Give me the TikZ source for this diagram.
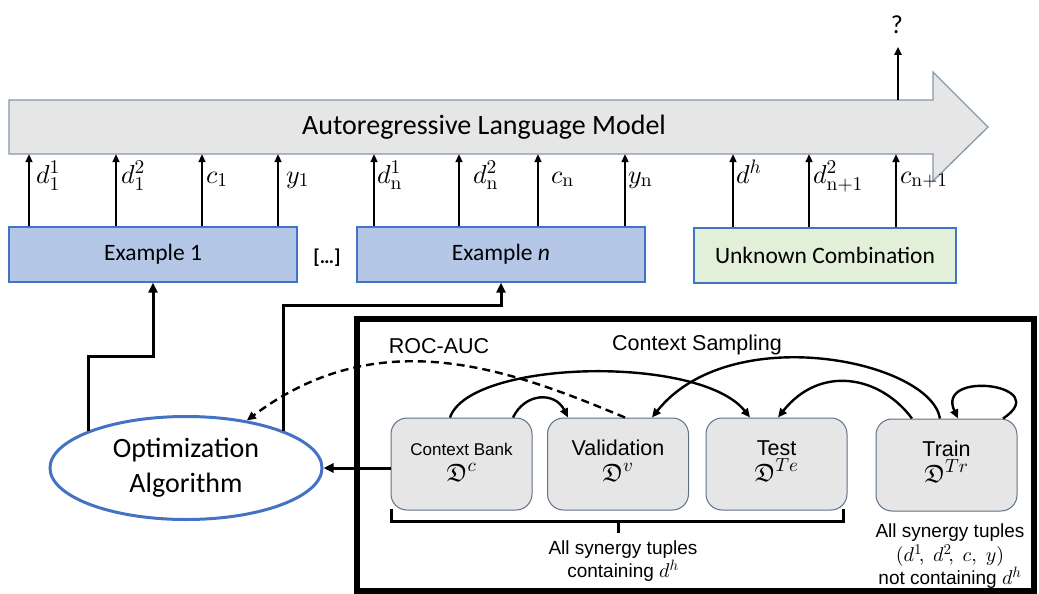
\documentclass[tikz,border=0pt]{standalone}
\usepackage[no-math]{fontspec}
\usepackage{amsmath,amssymb}
\DeclareFontShape{OML}{cmm}{m}{it}{<->cmmi10}{}
\DeclareFontShape{OT1}{cmr}{m}{n}{<->cmr10}{}
\DeclareFontShape{OMS}{cmsy}{m}{n}{<->cmsy10}{}
\DeclareFontShape{OMX}{cmex}{m}{n}{<->cmex10}{}
\DeclareFontFamily{U}{euf}{}
\DeclareFontShape{U}{euf}{m}{n}{<->eufm10}{}
\DeclareFontShape{U}{euf}{b}{n}{<->eufb10}{}
\DeclareMathSizes{26}{26}{19.5}{15}
\DeclareMathSizes{25}{25}{19}{14}
\DeclareMathSizes{20}{20}{15}{11}
\setmainfont{Carlito}
\newfontfamily\arialf{Liberation Sans}
\usetikzlibrary{arrows.meta,shapes.geometric,calc}
\definecolor{lmfill}{HTML}{E7E6E6}
\definecolor{lmdraw}{HTML}{8497B0}
\definecolor{exfill}{HTML}{B4C7E7}
\definecolor{exdraw}{HTML}{4472C4}
\definecolor{unkfill}{HTML}{E2F0D9}
\definecolor{setfill}{HTML}{E6E6E6}
\definecolor{setdraw}{HTML}{5F7086}
\newcommand{\fsz}[2]{\fontsize{#1}{#2}\selectfont}
\newcommand{\bm}[1]{{\fontsize{20}{23}\selectfont$#1$}}
\begin{document}
\begin{tikzpicture}[x=1pt,y=-1pt,
  inarrow/.style={line width=2.4pt,-{Triangle[length=8pt,width=7pt]}},
  link/.style={line width=3pt,-{Triangle[length=10pt,width=9pt]}},
  curve/.style={line width=2.4pt,-{Triangle[length=9pt,width=8pt]}},
  dashline/.style={line width=2.4pt,dash pattern=on 8pt off 5pt,-{Triangle[length=9pt,width=8pt]}},
  exbox/.style={draw=exdraw,line width=1.2pt,fill=exfill,minimum width=288pt,minimum height=55pt,inner sep=0pt,font=\fsz{23.5}{28}},
  setbox/.style={draw=setdraw,line width=1pt,fill=setfill,rounded corners=16pt,minimum width=141pt,minimum height=92pt,inner sep=0pt},
  lbl/.style={inner sep=0pt,font=\fsz{26}{30}},
  setname/.style={inner sep=0pt,anchor=base,font=\arialf\fsz{21.5}{26}},
  setsym/.style={inner sep=0pt,anchor=base,font=\fsz{25}{30}},
  note/.style={inner sep=0pt,align=center,font=\arialf\fsz{19}{23}}
]
\useasboundingbox (0,0) rectangle (1039,594);

% language model arrow
\draw[draw=lmdraw,line width=1.3pt,fill=lmfill] (9,100) -- (933,100) -- (933,72) -- (988,127) -- (933,181) -- (933,154) -- (9,154) -- cycle;
\node[minimum width=924pt,minimum height=54pt,inner sep=0pt] (lm) at (471,127) {};
\node[font=\fsz{28}{32}] (lmtext) at (484,127) {Autoregressive Language Model};

% output
\node[font=\fsz{26}{30},inner sep=0pt] (q) at (897,25) {?};
\draw[inarrow] (lm.north -| 898,0) -- ++(0,-53);

% example boxes
\node[exbox] (ex1) at (153,254.5) {Example 1};
\node[exbox] (exn) at (501,254.5) {Example \textit{n}};
\node[exbox,fill=unkfill,minimum width=262pt] (unk) at (825,255.5) {Unknown Combination};
\node[font=\bfseries\fsz{20}{24}] (dots) at (327,258) {[…]};

% input arrows with labels
\foreach \ax/\lx/\lab/\src/\nm in {
  29/36/{$d^1_1$}/ex1/la1, 116/121/{$d^2_1$}/ex1/la2, 202/206/{$c_1$}/ex1/la3, 278/286/{$y_1$}/ex1/la4,
  374/377/{$d^1_{\mathrm{n}}$}/exn/lb1, 459/473/{$d^2_{\mathrm{n}}$}/exn/lb2, 538/551/{$c_{\mathrm{n}}$}/exn/lb3, 625/628/{$y_{\mathrm{n}}$}/exn/lb4,
  733/736/{$d^h$}/unk/lu1, 809/813/{$d^2_{\mathrm{n+1}}$}/unk/lu2, 896/900/{$c_{\mathrm{n+1}}$}/unk/lu3}{
  \draw[inarrow] (\src.north -| \ax,0) -- (lm.south -| \ax,0);
  \node[lbl,anchor=base west] (\nm) at (\lx,183) {\lab};
}

% optimization ellipse
\node[ellipse,draw=exdraw,line width=3pt,minimum width=272pt,minimum height=103pt,inner sep=0pt,align=center,font=\fsz{28}{35}] (opt) at (186,468) {Optimization\\Algorithm};

\draw[link] (opt.159) -- ++(0,-74) -| (ex1.south);
\draw[link] (opt.21.6) -- ++(0,-125) -| (exn.south);

% big frame
\draw[line width=6pt] (357,319) rectangle (1034,591);
\node[font=\arialf\fsz{21.5}{26}] (roc) at (439,346) {ROC-AUC};
\node[font=\arialf\fsz{21.5}{26}] (cs) at (697,345) {Context Sampling};

% data sets
\node[setbox] (cb) at (461.5,464) {};
\node[setbox] (val) at (618,464) {};
\node[setbox] (test) at (776.5,464) {};
\node[setbox] (train) at (946.5,465) {};

\node[setname,font=\arialf\fsz{17}{20}] (cbn) at ([yshift=9pt]cb.center) {Context Bank};
\node[setsym] (cbs) at ([yshift=-17pt]cb.center) {$\mathfrak{D}^{c}$};
\node[setname] (valn) at ([yshift=9pt]val.center) {Validation};
\node[setsym] (vals) at ([yshift=-17pt]val.center) {$\mathfrak{D}^{v}$};
\node[setname] (testn) at ([yshift=9pt]test.center) {Test};
\node[setsym] (tests) at ([yshift=-17pt]test.center) {$\mathfrak{D}^{Te}$};
\node[setname] (trainn) at ([yshift=9pt]train.center) {Train};
\node[setsym] (trains) at ([yshift=-17pt]train.center) {$\mathfrak{D}^{Tr}$};

% connectors among sets
\draw[link] (cb.west |- opt) -- (opt.east);
\draw[dashline] ([xshift=7pt]val.north) .. controls +(-115,-48) and +(133,-100) .. (opt.38);
\draw[curve] ([xshift=-11.5pt]cb.north) .. controls +(20,-58) and +(-50,-63) .. ([xshift=-26.5pt]test.north);
\draw[curve] ([xshift=51.5pt]cb.north) .. controls +(12,-25) and +(-13,-26) .. ([xshift=-50pt]val.north);
\draw[curve] ([xshift=-6.5pt]train.north) .. controls +(-10,-58) and +(78,-98) .. ([xshift=34pt]val.north);
\draw[curve] ([xshift=-34.5pt]train.north) .. controls +(-32,-43) and +(42,-53) .. ([xshift=1.5pt]test.north);
\draw[curve] ([xshift=56.5pt]train.north) .. controls +(52,-34) and +(-23,-49) .. ([xshift=11.5pt]train.north);

% bracket
\draw[line width=3pt] (391,509) -- (391,521) -- (843,521) -- (843,509);
\draw[line width=3pt] (618,521) -- (618,533);

% notes
\node[note] (note1) at (623,561) {All synergy tuples\\containing \bm{d^h}};
\node[note] (note2) at (950,556) {All synergy tuples\\[1pt]\bm{(d^1\!,\; d^2\!,\; c,\; y)}\\not containing \bm{d^h}};
\end{tikzpicture}
\end{document}
